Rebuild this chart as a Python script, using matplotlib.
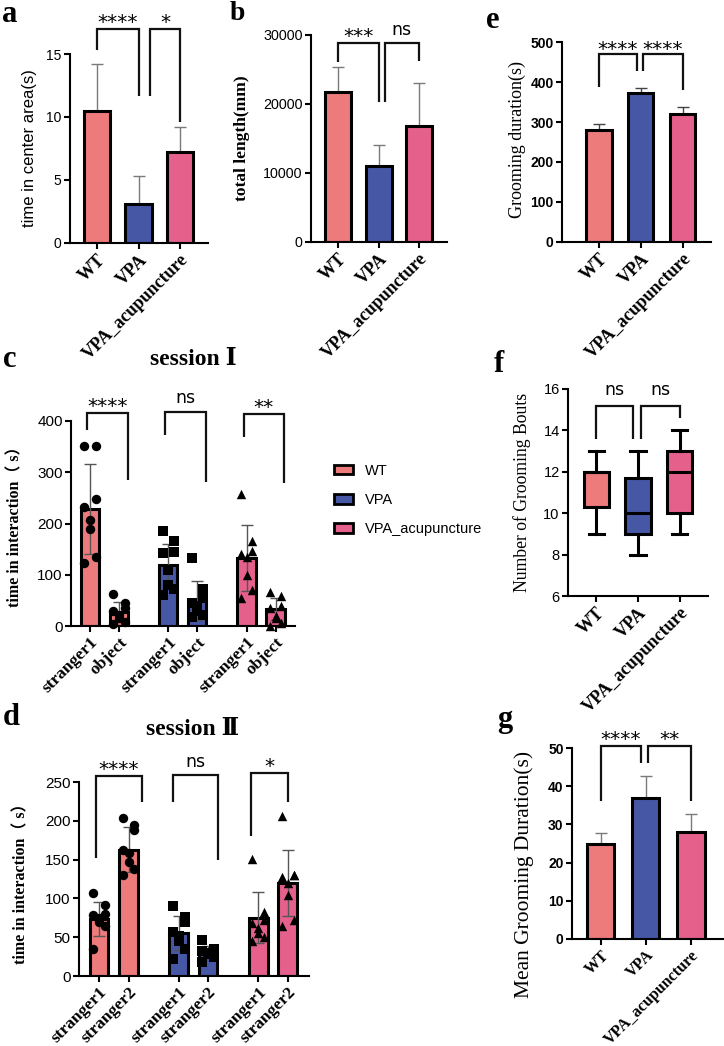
import matplotlib
matplotlib.use('Agg')
import matplotlib.pyplot as plt
from matplotlib.patches import Patch
import numpy as np

SERIF = ['Liberation Serif', 'DejaVu Serif', 'Noto Sans CJK SC']
SANS = ['Liberation Sans', 'DejaVu Sans']
STAR = ['DejaVu Sans']
plt.rcParams['font.family'] = SANS
plt.rcParams['axes.linewidth'] = 1.5
plt.rcParams['xtick.major.width'] = 1.5
plt.rcParams['ytick.major.width'] = 1.5
plt.rcParams['xtick.major.size'] = 4
plt.rcParams['ytick.major.size'] = 4

# ---------------- data ----------------
groups = ['WT', 'VPA', 'VPA_acupuncture']
colors = ['#EE7B7B', '#4657A6', '#E5618C']

a_mean = [10.5, 3.1, 7.2]
a_err = [3.7, 2.2, 2.0]
a_sig = ['****', '*']

b_mean = [21800, 11000, 16800]
b_err = [3500, 3100, 6300]
b_sig = ['***', 'ns']

e_mean = [280, 373, 320]
e_err = [16, 13, 18]
e_sig = ['****', '****']

g_mean = [25, 37, 28]
g_err = [2.7, 5.8, 4.8]
g_sig = ['****', '**']

f_whislo = [9, 8, 9]
f_q1 = [10.3, 9, 10]
f_med = [12, 10, 12]
f_q3 = [12, 11.7, 13]
f_whishi = [13, 13, 14]
f_sig = ['ns', 'ns']

c_ticks = ['stranger1', 'object']
c_pts_WT = [[351, 351, 248, 232, 207, 189, 135, 123], [62, 45, 35, 30, 22, 15, 8, 3]]
c_pts_VPA = [[185, 165, 145, 142, 110, 80, 72, 60], [133, 72, 55, 45, 40, 30, 22, 18]]
c_pts_ACU = [[258, 165, 147, 140, 135, 100, 70, 55], [66, 58, 40, 35, 20, 15, 5, 0]]
c_mean = [[228, 28], [120, 50], [133, 33]]
c_sd = [[88, 18], [40, 38], [65, 22]]
c_sig = ['****', 'ns', '**']

d_ticks = ['stranger1', 'stranger2']
d_pts_WT = [[107, 91, 80, 78, 75, 70, 65, 35], [204, 195, 188, 163, 158, 147, 138, 130]]
d_pts_VPA = [[90, 76, 70, 57, 52, 45, 35, 22], [47, 35, 33, 32, 30, 28, 25, 18]]
d_pts_ACU = [[151, 82, 72, 68, 62, 55, 50, 45], [206, 130, 130, 128, 120, 105, 72, 65]]
d_mean = [[74, 163], [55, 31], [75, 120]]
d_sd = [[22, 29], [22, 8], [33, 43]]
d_sig = ['****', 'ns', '*']

# ---------------- layout helpers ----------------
W, H = 724, 1046
fig = plt.figure(figsize=(W / 100, H / 100), dpi=100)


def add_ax(left, right, top, bottom):
    return fig.add_axes([left / W, 1 - bottom / H, (right - left) / W, (bottom - top) / H])


def style_ax(ax, tsize=10, bold_ticks=False):
    for s in ('top', 'right'):
        ax.spines[s].set_visible(False)
    ax.tick_params(axis='y', labelsize=tsize, pad=2)
    ax.tick_params(axis='x', pad=2)
    for t in ax.get_yticklabels():
        t.set_fontfamily(SANS)
        if bold_ticks:
            t.set_fontweight('bold')


def xlabels(ax, labels, size=13):
    ax.set_xticklabels(labels, rotation=45, ha='right', rotation_mode='anchor',
                       fontfamily=SERIF, fontweight='bold', fontsize=size)


def ylab(ax, text, xpix, ypix, size, weight='normal', family=SERIF):
    ax.set_ylabel(text, fontsize=size, fontweight=weight, family=family, va='center')
    pos = ax.get_position()
    xf = (xpix / W - pos.x0) / pos.width
    yf = ((1 - ypix / H) - pos.y0) / pos.height
    ax.yaxis.set_label_coords(xf, yf)


def bracket(ax, x1, x2, top, y1, y2, label, gap=9.4):
    ax.plot([x1, x1, x2, x2], [y1, top, top, y2], color='#111111', lw=1.6,
            clip_on=False, solid_joinstyle='miter', solid_capstyle='butt', zorder=5)
    if '*' in label:
        fs, frac = 14.5, 0.6
    else:
        fs, frac = 12.5, 0.27
    off = gap - frac * fs
    ax.annotate(label, ((x1 + x2) / 2, top), xytext=(0, off), textcoords='offset points',
                ha='center', va='baseline', fontsize=fs, family=STAR, annotation_clip=False)


def panel_label(letter, xpix, basepix, size=22):
    fig.text(xpix / W, 1 - basepix / H, letter, fontsize=size, fontweight='bold',
             family=SERIF, ha='left', va='baseline')


def bar_panel(ax, means, errs, ylim, yticks, xlim, width=0.62, ecolor='#7a7a7a'):
    x = np.arange(len(groups))
    ax.bar(x, means, width=width, color=colors, edgecolor='black', linewidth=2.2, zorder=2)
    ax.errorbar(x, means, yerr=[np.zeros(len(x)), errs], fmt='none', ecolor=ecolor,
                elinewidth=1, capsize=4.5, capthick=1, zorder=1)
    ax.set_xlim(*xlim)
    ax.set_ylim(*ylim)
    ax.set_yticks(yticks)
    ax.set_xticks(x)


# ---------------- panel a ----------------
ax = add_ax(70, 208, 54, 243)
bar_panel(ax, a_mean, a_err, (0, 15), [0, 5, 10, 15], (-0.65, 2.67), width=0.63)
style_ax(ax, 10)
xlabels(ax, groups)
ylab(ax, 'time in center area(s)', 30, 148, 12, family=SANS)
bracket(ax, 0, 1, 17.0, 15.3, 11.7, a_sig[0])
bracket(ax, 1.27, 2, 17.0, 11.7, 9.6, a_sig[1])
panel_label('a', 2, 22)

# ---------------- panel b ----------------
ax = add_ax(311, 447, 35, 242)
bar_panel(ax, b_mean, b_err, (0, 30000), [0, 10000, 20000, 30000], (-0.67, 2.69), width=0.64)
style_ax(ax, 10.3)
xlabels(ax, groups)
ylab(ax, 'total length(mm)', 242, 138, 12.5, weight='bold')
bracket(ax, 0, 1, 28840, 26090, 20290, b_sig[0])
bracket(ax, 1.15, 2, 28840, 20290, 26230, b_sig[1])
panel_label('b', 230, 20, size=20)

# ---------------- panel e ----------------
ax = add_ax(562, 711, 42, 242)
bar_panel(ax, e_mean, e_err, (0, 500), [0, 100, 200, 300, 400, 500], (-0.88, 2.67),
          width=0.6, ecolor='#444444')
style_ax(ax, 10, bold_ticks=True)
xlabels(ax, groups)
ylab(ax, 'Grooming duration(s)', 517, 140, 13)
bracket(ax, 0, 0.9, 470, 387, 427, e_sig[0], gap=8)
bracket(ax, 1.05, 2, 470, 427, 380, e_sig[1], gap=8)
panel_label('e', 486, 28)

# ---------------- panel f ----------------
ax = add_ax(568, 708, 389, 596)
stats = []
for i, name in enumerate(groups):
    stats.append(dict(label=name, whislo=f_whislo[i], q1=f_q1[i], med=f_med[i],
                      q3=f_q3[i], whishi=f_whishi[i], fliers=[]))
bp = ax.bxp(stats, positions=[0, 1, 2], widths=0.6, patch_artist=True, showfliers=False,
            boxprops=dict(linewidth=2.2, edgecolor='black'),
            whiskerprops=dict(linewidth=2.2, color='black'),
            capprops=dict(linewidth=2.2, color='black'),
            medianprops=dict(linewidth=2.2, color='black'), capwidths=0.36)
for patch, col in zip(bp['boxes'], colors):
    patch.set_facecolor(col)
ax.set_xlim(-0.67, 2.67)
ax.set_ylim(6, 16)
ax.set_yticks([6, 8, 10, 12, 14, 16])
ax.set_xticks([0, 1, 2])
style_ax(ax, 10.5)
xlabels(ax, groups)
ylab(ax, 'Number of Grooming Bouts', 522, 492, 12.7)
bracket(ax, 0, 0.88, 15.2, 13.6, 13.6, f_sig[0], gap=11)
bracket(ax, 1.07, 2, 15.2, 13.6, 14.6, f_sig[1], gap=11)
panel_label('f', 494, 372)

# ---------------- panel g ----------------
ax = add_ax(572, 723, 748, 939)
bar_panel(ax, g_mean, g_err, (0, 50), [0, 10, 20, 30, 40, 50], (-0.64, 2.71), width=0.6)
style_ax(ax, 10, bold_ticks=True)
xlabels(ax, groups, size=11.5)
ylab(ax, 'Mean Grooming Duration(s)', 524, 874, 15.5)
bracket(ax, 0, 0.89, 50.5, 36.1, 46, g_sig[0])
bracket(ax, 1.04, 2, 50.5, 46, 36, g_sig[1])
panel_label('g', 497, 727)

# ---------------- grouped panels c & d ----------------
markers = ['o', 's', '^']
JITTER = [-0.2, 0.2, 0.2, -0.2, 0.0, 0.0, 0.2, -0.2]
GAP = 2.7


def grouped_panel(ax, pts_all, means, sds, ticks, xlim):
    xs = []
    labels = []
    for gi in range(3):
        for k in range(2):
            xp = gi * GAP + k
            xs.append(xp)
            labels.append(ticks[k])
            ax.bar(xp, means[gi][k], width=0.63, color=colors[gi], edgecolor='black',
                   linewidth=2.2, zorder=2)
            ax.errorbar(xp, means[gi][k], yerr=sds[gi][k], fmt='none', ecolor='#555555',
                        elinewidth=1, capsize=4, capthick=1, zorder=3)
            pts = pts_all[gi][k]
            ax.scatter(xp + np.array(JITTER[:len(pts)]), pts, marker=markers[gi], s=46,
                       color='black', zorder=4, clip_on=False, linewidths=0)
    ax.set_xticks(xs)
    ax.set_xlim(*xlim)
    return labels


ax = add_ax(71, 295, 421, 626)
labs = grouped_panel(ax, [c_pts_WT, c_pts_VPA, c_pts_ACU], c_mean, c_sd, c_ticks, (-0.66, 7.07))
ax.set_ylim(0, 400)
ax.set_yticks([0, 100, 200, 300, 400])
style_ax(ax, 11)
xlabels(ax, labs, size=12.5)
ylab(ax, 'time in interaction（ s）', 15, 523, 11.5, weight='bold')
c_br = [(416, 382, 285), (418, 373, 281), (414, 369, 279)]
for gi in range(3):
    top, yl, yr = c_br[gi]
    bracket(ax, gi * GAP - 0.1, gi * GAP + 1.3, top, yl, yr, c_sig[gi])
panel_label('c', 3, 367)
fig.text(193 / W, 1 - 365 / H, 'session Ⅰ', ha='center', va='baseline', fontsize=17,
         fontweight='bold', family=SERIF)

ax = add_ax(79, 309, 782, 976)
labs = grouped_panel(ax, [d_pts_WT, d_pts_VPA, d_pts_ACU], d_mean, d_sd, d_ticks, (-0.68, 7.12))
ax.set_ylim(0, 250)
ax.set_yticks([0, 50, 100, 150, 200, 250])
style_ax(ax, 11)
xlabels(ax, labs, size=12.5)
ylab(ax, 'time in interaction（ s）', 21, 880, 11.5, weight='bold')
d_br = [(258, 152, 224, -0.1, 0.44), (259, 224, 149, -0.2, 0.34), (262, 180, 224, -0.24, 0.0)]
for gi in range(3):
    top, yl, yr, dl, dr = d_br[gi]
    bracket(ax, gi * GAP + dl, gi * GAP + 1 + dr, top, yl, yr, d_sig[gi])
panel_label('d', 3, 725)
fig.text(193 / W, 1 - 735 / H, 'session Ⅱ', ha='center', va='baseline', fontsize=17,
         fontweight='bold', family=SERIF)

# ---------------- legend ----------------
handles = [Patch(facecolor=c, edgecolor='black', linewidth=2) for c in colors]
fig.legend(handles, groups, loc='center left', bbox_to_anchor=(334 / W, 1 - 500 / H),
           frameon=False, fontsize=10.5, handlelength=1.3, handleheight=0.65,
           handletextpad=0.8, labelspacing=1.05, borderpad=0, borderaxespad=0)

fig.savefig('out.png', dpi=100)
